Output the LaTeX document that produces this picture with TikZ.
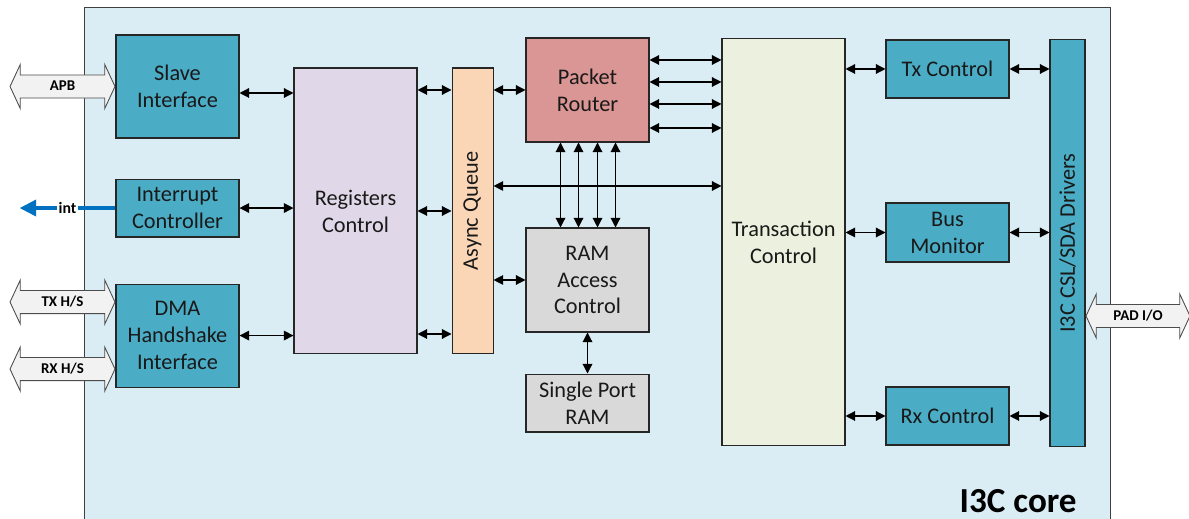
\documentclass[tikz,border=0pt]{standalone}
\usepackage{fontspec}
\setmainfont{Carlito}
\usetikzlibrary{shapes.arrows, arrows.meta, positioning, calc}

\definecolor{corebg}{RGB}{219,237,244}
\definecolor{blockteal}{RGB}{75,172,198}
\definecolor{regfill}{RGB}{224,216,232}
\definecolor{asyncfill}{RGB}{251,214,182}
\definecolor{routerfill}{RGB}{218,150,148}
\definecolor{ramfill}{RGB}{217,217,217}
\definecolor{transfill}{RGB}{235,241,222}
\definecolor{busfill}{RGB}{242,242,242}
\definecolor{intblue}{RGB}{0,112,192}

\begin{document}
\begin{tikzpicture}[
    x=0.02cm, y=-0.02cm,
    block/.style={draw=black!85, line width=0.6pt, align=center, text=black!90,
                  font=\fontsize{12.7}{15.3}\selectfont, inner sep=0pt, minimum width=2.46cm},
    tealbox/.style={block, fill=blockteal},
    vtext/.style={rotate=90, text=black!90, font=\fontsize{12.7}{15.3}\selectfont},
    link/.style={{Triangle[length=5.5pt,width=5.5pt]}-{Triangle[length=5.5pt,width=5.5pt]},
                 line width=0.7pt},
    busarrow/.style={double arrow, draw=black!70, fill=busfill, line width=0.5pt,
                     font=\bfseries\fontsize{8.5}{9}\selectfont, text height=5.8pt, text depth=1pt,
                     inner xsep=0pt, inner ysep=2.9pt, double arrow head extend=6pt,
                     double arrow tip angle=130, minimum height=2.1cm},
    intline/.style={-{Triangle[length=9.5pt,width=9pt]}, draw=intblue, line width=2.3pt},
]
\useasboundingbox (0,0) rectangle (1189,519);

% Core area
\node[fill=corebg, inner sep=0pt, minimum width=20.5cm, minimum height=10.28cm] (core) at (597.5,265) {};
\draw[line width=0.6pt, black!75] (core.south west) |- (core.north east) -- (core.south east);
\node[font=\bfseries\fontsize{20}{24}\selectfont, text=black, inner sep=0pt, anchor=base east]
     (corelbl) at (1077,513) {I3C core};

% Host side blocks
\node[tealbox, minimum height=2.06cm] (slave) at (177.5,86.5) {Slave\\Interface};
\node[tealbox, minimum height=1.16cm, below=0.8cm of slave] (intr) {Interrupt\\Controller};
\node[tealbox, minimum height=2.06cm, below=0.92cm of intr] (dma) {DMA\\Handshake\\Interface};

\node[block, fill=regfill, minimum height=5.72cm] (regs) at (355.5,211) {Registers\\Control};
\node[block, fill=asyncfill, minimum width=0.82cm, minimum height=5.72cm, right=0.68cm of regs,
      label={[vtext]center:Async Queue}] (async) {};

% Router and RAM
\node[block, fill=routerfill, minimum height=2.08cm] (router) at (587.5,90) {Packet\\Router};
\node[block, fill=ramfill, minimum height=2.08cm] (ramctl) at (587.5,280) {RAM\\Access\\Control};
\node[block, fill=ramfill, minimum height=1.16cm, below=0.82cm of ramctl] (sram) {Single Port\\RAM};

% Bus side blocks
\node[block, fill=transfill, minimum height=8.16cm] (trans) at (783.5,242) {Transaction\\Control};
\node[tealbox, minimum height=1.16cm] (txc) at (947.5,69) {Tx Control};
\node[tealbox, minimum height=1.18cm] (busmon) at (947.5,232.5) {Bus\\Monitor};
\node[tealbox, minimum height=1.16cm] (rxc) at (947.5,416) {Rx Control};
\node[tealbox, minimum width=0.7cm, minimum height=8.16cm,
      label={[vtext]center:I3C CSL/SDA Drivers}] (drv) at (1067.5,243) {};

% External ports
\node[busarrow, left=0pt of slave.west] (apb) {APB};
\node[busarrow, anchor=east] (txhs) at ($(dma.west)+(0,-33.5)$) {TX H/S};
\node[busarrow, anchor=east] (rxhs) at ($(dma.west)+(0,33.5)$) {RX H/S};
\node[busarrow, anchor=west, minimum height=2.08cm] (pad) at ($(drv.east)+(0,73)$) {PAD I/O};
\coordinate (intout) at ($(intr.west)+(-96,0)$);
\draw[intline] (intr.west) -- node[fill=white, inner sep=1pt, text=black,
      font=\bfseries\fontsize{9}{10}\selectfont] (intlbl) {int} (intout);

% Internal connections
\draw[link] ($(slave.east)+(0,6.5)$) coordinate (t) -- (t -| regs.west);
\draw[link] (intr.east) -- (intr.east -| regs.west);
\draw[link] (dma.east) -- (dma.east -| regs.west);
\foreach \dy in {-121,0,123}
  \draw[link] ($(regs.east)+(0,\dy)$) coordinate (t) -- (t -| async.west);
\draw[link] (router.west -| async.east) -- (router.west);
\draw[link] (ramctl.west -| async.east) -- (ramctl.west);
\draw[link] ($(async.east)+(0,-25)$) coordinate (t) -- (t -| trans.west);
\foreach \dy in {-30,-8,14,38}
  \draw[link] ($(router.east)+(0,\dy)$) coordinate (t) -- (t -| trans.west);
\foreach \dx in {-27,-9,10,28}
  \draw[link] ($(router.south)+(\dx,0)$) coordinate (t) -- (t |- ramctl.north);
\draw[link] (ramctl.south) -- (sram.north);

\draw[link] (txc.west -| trans.east) -- (txc.west);
\draw[link] (busmon.west -| trans.east) -- (busmon.west);
\draw[link] (rxc.west -| trans.east) -- (rxc.west);
\draw[link] (txc.east) -- (txc.east -| drv.west);
\draw[link] (busmon.east) -- (busmon.east -| drv.west);
\draw[link] (rxc.east) -- (rxc.east -| drv.west);
\end{tikzpicture}
\end{document}
